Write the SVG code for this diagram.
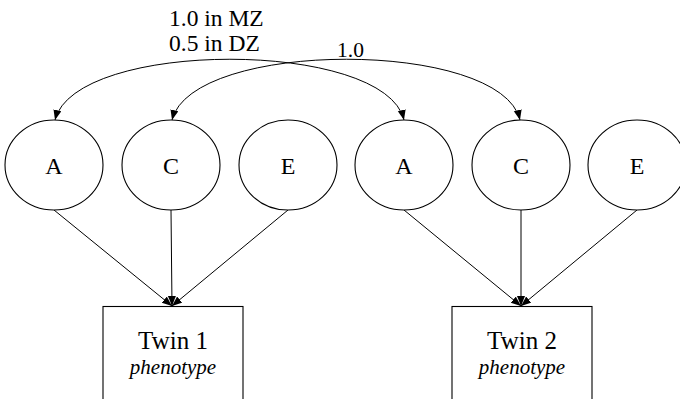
<svg xmlns="http://www.w3.org/2000/svg" width="680" height="399" viewBox="0 0 680 399">
  <style>
    text { font-family: "Liberation Serif", "Times New Roman", serif; fill: #000000; }
    .lat ellipse { fill: #ffffff; stroke: #000000; stroke-width: 1.1; }
    .lat text { font-size: 24px; text-anchor: middle; }
    .obs rect { fill: #ffffff; stroke: #000000; stroke-width: 1.1; }
    .obs text { text-anchor: middle; }
    .obs .name { font-size: 25px; }
    .obs .sub { font-size: 21px; font-style: italic; }
    .edge { fill: none; stroke: #000000; stroke-width: 1; }
  </style>
  <defs>
    <marker id="arrow" markerUnits="userSpaceOnUse" markerWidth="11" markerHeight="9" refX="10" refY="4" orient="auto-start-reverse">
      <path d="M0,0 L10,4 L0,8 z" fill="#000000"/>
    </marker>
  </defs>

  <rect width="680" height="399" fill="#ffffff"/>

  <!-- connectors -->
  <g id="edges">
    <!-- two-headed covariance paths between the twins -->
    <path class="edge" d="M55,120 C75,39 385,39 404,120" marker-start="url(#arrow)" marker-end="url(#arrow)"/>
    <path class="edge" d="M172,120 C192,39 501,39 520,120" marker-start="url(#arrow)" marker-end="url(#arrow)"/>
    <!-- latent factors to twin 1 -->
    <line class="edge" x1="54" y1="210" x2="172" y2="306" marker-end="url(#arrow)"/>
    <line class="edge" x1="171" y1="210" x2="172" y2="306" marker-end="url(#arrow)"/>
    <line class="edge" x1="288" y1="210" x2="172" y2="306" marker-end="url(#arrow)"/>
    <!-- latent factors to twin 2 -->
    <line class="edge" x1="404" y1="210" x2="521" y2="306" marker-end="url(#arrow)"/>
    <line class="edge" x1="521" y1="210" x2="521" y2="306" marker-end="url(#arrow)"/>
    <line class="edge" x1="637" y1="210" x2="521" y2="306" marker-end="url(#arrow)"/>
    <!-- path labels -->
    <text x="169" y="26" font-size="23.5" font-family="Liberation Serif, serif">1.0 in MZ</text>
    <text x="169" y="50.5" font-size="23.5" font-family="Liberation Serif, serif">0.5 in DZ</text>
    <text x="337" y="56.5" font-size="21.5" font-family="Liberation Serif, serif">1.0</text>
  </g>

  <!-- twin 1 latent factors -->
  <g id="A1" class="lat"><ellipse cx="54" cy="165" rx="49" ry="45"/><text x="54" y="174">A</text></g>
  <g id="C1" class="lat"><ellipse cx="171" cy="165" rx="49" ry="45"/><text x="171" y="174">C</text></g>
  <g id="E1" class="lat"><ellipse cx="288" cy="165" rx="49" ry="45"/><text x="288" y="174">E</text></g>
  <!-- twin 2 latent factors -->
  <g id="A2" class="lat"><ellipse cx="404" cy="165" rx="49" ry="45"/><text x="404" y="174">A</text></g>
  <g id="C2" class="lat"><ellipse cx="521" cy="165" rx="49" ry="45"/><text x="521" y="174">C</text></g>
  <g id="E2" class="lat"><ellipse cx="637" cy="165" rx="49" ry="45"/><text x="637" y="174">E</text></g>

  <!-- observed phenotypes -->
  <g id="twin1" class="obs">
    <rect x="103" y="306.5" width="140" height="110"/>
    <text class="name" x="173" y="349">Twin 1</text>
    <text class="sub" x="173" y="374">phenotype</text>
  </g>
  <g id="twin2" class="obs">
    <rect x="452" y="306.5" width="140" height="110"/>
    <text class="name" x="522" y="349">Twin 2</text>
    <text class="sub" x="522" y="374">phenotype</text>
  </g>
</svg>
